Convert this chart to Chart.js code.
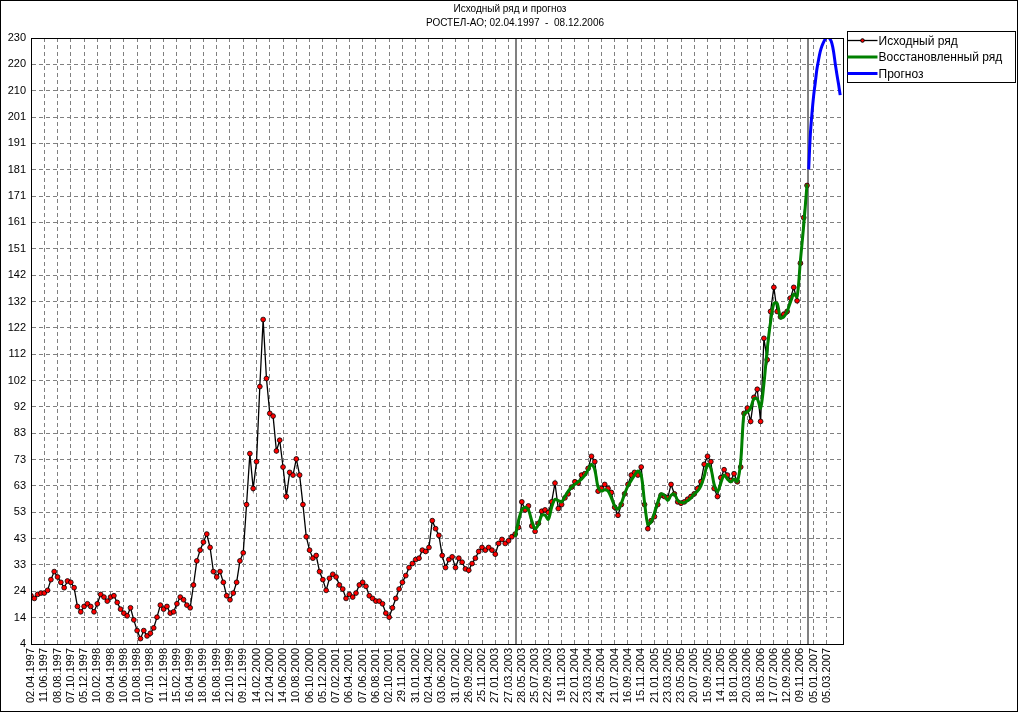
<!DOCTYPE html>
<html lang="ru">
<head>
<meta charset="UTF-8">
<title>Исходный ряд и прогноз</title>
<script src="https://cdn.jsdelivr.net/npm/chart.js@4.4.1/dist/chart.umd.min.js"></script>
<style>
  html, body { margin: 0; padding: 0; background: #fff; }
  #wrap { position: relative; width: 1020px; height: 715px; }
</style>
</head>
<body>
<div id="wrap"><canvas id="chart" width="1020" height="715"></canvas></div>
<script>
const titleText = "Исходный ряд и прогноз";
const subtitleText = "РОСТЕЛ-АО; 02.04.1997  -  08.12.2006";

// x axis tick labels, one per grid step
const dates = [
  "02.04.1997", "11.06.1997", "08.08.1997", "07.10.1997", "05.12.1997",
  "10.02.1998", "09.04.1998", "10.06.1998", "10.08.1998", "07.10.1998", "11.12.1998",
  "15.02.1999", "16.04.1999", "18.06.1999", "16.08.1999", "12.10.1999", "09.12.1999",
  "14.02.2000", "12.04.2000", "14.06.2000", "10.08.2000", "06.10.2000", "05.12.2000",
  "07.02.2001", "06.04.2001", "07.06.2001", "06.08.2001", "02.10.2001", "29.11.2001",
  "31.01.2002", "02.04.2002", "03.06.2002", "31.07.2002", "26.09.2002", "25.11.2002",
  "27.01.2003", "27.03.2003", "28.05.2003", "25.07.2003", "22.09.2003", "19.11.2003",
  "22.01.2004", "23.03.2004", "24.05.2004", "21.07.2004", "16.09.2004", "15.11.2004",
  "21.01.2005", "23.03.2005", "23.05.2005", "20.07.2005", "15.09.2005", "14.11.2005",
  "18.01.2006", "20.03.2006", "18.05.2006", "17.07.2006", "12.09.2006", "09.11.2006",
  "05.01.2007", "05.03.2007"
];

// series are sampled every quarter of a date step
const step = 0.25;

const originalStart = 0;
const originalValues = [
  22, 21, 22.5, 23,     23, 24, 28, 31,       29, 27, 25, 27.5,     27, 25, 18, 16,
  18, 19, 18, 16,       19, 22.5, 21.5, 20,   21.5, 22, 19.5, 17,   15.5, 14.5, 17.5, 13,
  9, 6, 9, 7,           8, 10, 14, 18.5,      17, 18, 15.5, 16,     19, 21.5, 20.5, 18.5,
  17.5, 26, 35, 39,     42, 45, 40, 31,       29, 31, 27, 22,       20.5, 23, 27, 35,
  38, 56, 75, 62,       72, 100, 125, 103,    90, 89, 76, 80,       70, 59, 68, 67,
  73, 67, 56, 44,       39, 36, 37, 31,       28, 24, 28.5, 30,     29, 26, 24.5, 21,
  22.5, 21.5, 23, 26,   27, 25.5, 22, 21,     20, 20, 19, 15.5,     14, 17.5, 21, 24.5,
  27, 29.5, 32.5, 34,   35.5, 36, 39, 38.5,   40, 50, 47, 44.5,     37, 32.5, 35.5, 36.5,
  32.5, 36, 34.5, 32,   31.5, 34, 36, 38.5,   40, 39, 40, 39,       37.5, 41.5, 43, 41.5,
  42.5, 44, 45, 47.5,   57, 54, 55.5, 48,     46, 49, 53.5, 54,     53, 57, 64, 54.5,
  56, 58.5, 60, 62.5,   64.5, 64, 67, 67.5,   69.5, 74, 72, 61,     62, 63.5, 62, 60.5,
  55, 52, 56, 60,       63.5, 67, 68, 67,     70, 56, 47, 50,       51.5, 56, 59.5, 59,
  58.5, 63.5, 60, 57,   56.5, 57, 58, 59,     60, 62, 64.5, 71,     74, 72, 62, 59,
  66, 69, 67, 65,       67.5, 64.5, 70, 90,   92, 87, 96, 99,       87, 118, 110, 128,
  137, 128, 126, 127,   128, 133, 137, 132,   146, 163, 175
];

const restoredStart = 36.5;
const restoredValues = [
  44, 50,
  54, 55, 54, 50,       47, 48.5, 52, 52,     50.5, 55, 58, 57.5,   57, 59, 61, 62.5,
  63.5, 64.5, 65.5, 67, 69, 71, 69, 62.5,     61, 61.5, 61, 58.5,   55.5, 54.3, 56.5, 60,
  63, 65, 67, 68.5,     67, 57, 48.6, 49.5,   53, 57, 60, 59.5,     57.5, 59.5, 60, 57.5,
  56.8, 56.8, 57.5, 58.5, 60, 61, 63, 66.5,   71, 69.5, 63.5, 60.8, 64, 67, 65.5, 64.5,
  65.5, 64.6, 72, 90,   90.5, 92, 95.5, 95.4, 92, 101, 114, 124,    131, 131, 125.6, 126,
  128, 131.5, 134.5, 133.5, 147, 160, 175.5
];

const forecastStart = 58.625;
const forecastStep = 0.125;
const forecastValues = [
  181, 194, 202, 208.5, 213.5, 218.5, 222, 225, 227, 228.5,
  229.6, 230.3, 230.2, 229.5, 228, 225, 220.5, 216.5, 212.8, 208.7
];

const yMin = 4;
const yMax = 230;
const yTickCount = 24;

const originalEnd = originalStart + (originalValues.length - 1) * step;

// Function to turn a value list into chart points
function toPoints(start, stepSize, values) {
  return values.map((value, i) => ({ x: start + i * stepSize, y: value }));
}

Chart.defaults.font.family = '"Liberation Sans", Arial, sans-serif';
Chart.defaults.color = "#000";

// Function to draw title, borders, marker lines and legend
const decorPlugin = {
  id: "decor",
  beforeDatasetsDraw(chart) {
    const { ctx, chartArea, scales } = chart;
    ctx.save();
    ctx.strokeStyle = "#808080";
    ctx.lineWidth = 2;
    [restoredStart, originalEnd].forEach((value) => {
      const x = Math.round(scales.x.getPixelForValue(value)) + 1;
      ctx.beginPath();
      ctx.moveTo(x, chartArea.top);
      ctx.lineTo(x, chartArea.bottom);
      ctx.stroke();
    });
    ctx.restore();
  },
  afterDraw(chart) {
    const { ctx, chartArea } = chart;
    ctx.save();

    // plot border
    ctx.strokeStyle = "#000";
    ctx.lineWidth = 1;
    const l = Math.floor(chartArea.left) + 0.5;
    const t = Math.floor(chartArea.top) + 0.5;
    const r = Math.floor(chartArea.right) + 0.5;
    const b = Math.floor(chartArea.bottom) + 0.5;
    ctx.strokeRect(l, t, r - l, b - t);

    // outer frame
    ctx.strokeRect(0.5, 0.5, chart.width - 3, chart.height - 4);

    // title
    ctx.fillStyle = "#000";
    ctx.font = '10px "Liberation Sans", Arial, sans-serif';
    ctx.textAlign = "center";
    ctx.textBaseline = "middle";
    ctx.fillText(titleText, chart.width / 2, 9);
    ctx.fillText(subtitleText, chart.width / 2 + 5, 23);

    // legend
    const boxLeft = r + 4;
    const boxTop = 31.5;
    const boxWidth = 168;
    const boxHeight = 51;
    ctx.strokeRect(boxLeft, boxTop, boxWidth, boxHeight);
    ctx.font = '12px "Liberation Sans", Arial, sans-serif';
    ctx.textAlign = "left";
    chart.data.datasets.forEach((ds, i) => {
      const y = boxTop + 9 + i * 16.5;
      ctx.strokeStyle = ds.borderColor;
      ctx.lineWidth = ds.borderWidth;
      ctx.beginPath();
      ctx.moveTo(boxLeft, y);
      ctx.lineTo(boxLeft + 30, y);
      ctx.stroke();
      if (ds.pointRadius > 0) {
        ctx.fillStyle = ds.pointBackgroundColor;
        ctx.strokeStyle = ds.pointBorderColor;
        ctx.lineWidth = 1;
        ctx.beginPath();
        ctx.arc(boxLeft + 15, y, 1.8, 0, Math.PI * 2);
        ctx.fill();
        ctx.stroke();
      }
      ctx.fillStyle = "#000";
      ctx.fillText(ds.label, boxLeft + 31, y + 1);
    });
    ctx.restore();
  },
};

const chart = new Chart(document.getElementById("chart").getContext("2d"), {
  type: "line",
  data: {
    datasets: [
      {
        label: "Исходный ряд",
        data: toPoints(originalStart, step, originalValues),
        borderColor: "#000000",
        borderWidth: 1.3,
        pointRadius: 2.4,
        pointBackgroundColor: "#ff0000",
        pointBorderColor: "#000000",
        pointBorderWidth: 0.8,
        order: 3,
      },
      {
        label: "Восстановленный ряд",
        data: toPoints(restoredStart, step, restoredValues),
        borderColor: "#008000",
        borderWidth: 3,
        pointRadius: 0,
        tension: 0.3,
        order: 2,
      },
      {
        label: "Прогноз",
        data: toPoints(forecastStart, forecastStep, forecastValues),
        borderColor: "#0000ff",
        borderWidth: 3,
        pointRadius: 0,
        tension: 0.3,
        order: 1,
      },
    ],
  },
  options: {
    responsive: false,
    animation: false,
    devicePixelRatio: 1,
    layout: { padding: { top: 38, right: 176.5, left: 0, bottom: 0 } },
    plugins: {
      legend: { display: false },
      title: { display: false },
      tooltip: { enabled: false },
    },
    scales: {
      x: {
        type: "linear",
        min: 0,
        max: 61.25,
        afterFit: (scale) => { scale.height = 71; },
        afterBuildTicks: (scale) => {
          scale.ticks = scale.ticks.filter(
            (t) => Number.isInteger(t.value) && t.value < dates.length
          );
        },
        ticks: {
          stepSize: 1,
          includeBounds: false,
          autoSkip: false,
          minRotation: 90,
          maxRotation: 90,
          padding: 4,
          font: { size: 11 },
          callback: (value) => dates[value] ?? "",
        },
        grid: { color: "#808080", lineWidth: 1, drawTicks: false },
        border: { display: true, color: "#000", dash: [4, 3] },
      },
      y: {
        type: "linear",
        min: yMin,
        max: yMax,
        afterFit: (scale) => { scale.width = 31; },
        ticks: {
          count: yTickCount,
          maxTicksLimit: 40,
          padding: 5,
          font: { size: 11 },
          callback: (value) => Math.round(value),
        },
        grid: { color: "#808080", lineWidth: 1, drawTicks: false },
        border: { display: true, color: "#000", dash: [4, 3] },
      },
    },
  },
  plugins: [decorPlugin],
});
</script>
</body>
</html>
